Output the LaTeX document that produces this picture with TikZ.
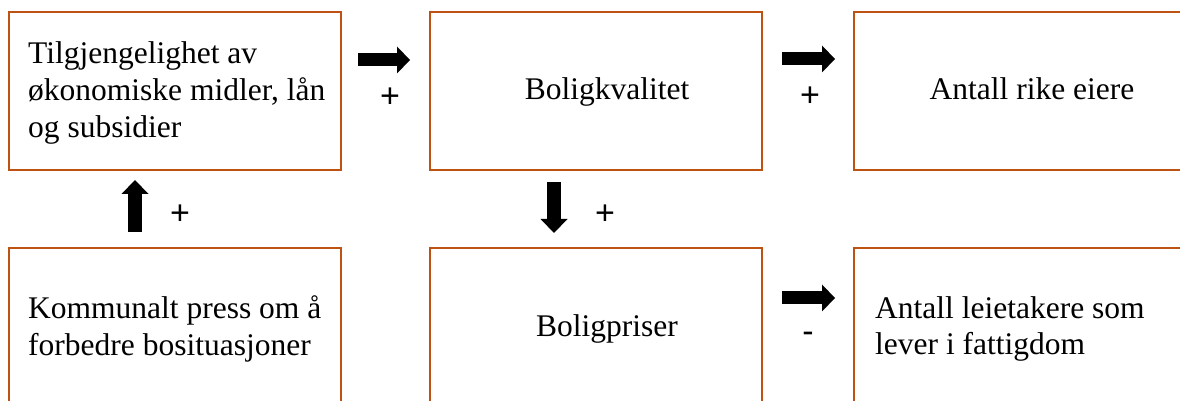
\documentclass[tikz,border=0pt]{standalone}
\usepackage{fontspec}
\setmainfont{Liberation Serif}
\newfontfamily\signfont{Liberation Sans}
\usetikzlibrary{arrows.meta}
\definecolor{BoxOrange}{RGB}{190,82,18}
\tikzset{
  box/.style={draw=BoxOrange, line width=2.6pt, minimum width=332pt, minimum height=158pt, inner sep=0pt, outer sep=0pt},
  boxtext/.style={font=\fontsize{31.5}{36.7}\selectfont, inner sep=0pt, align=left},
  sign/.style={font=\signfont\fontsize{34}{40}\selectfont, inner sep=0pt, anchor=base},
  blk/.style={line width=13pt, -{Triangle[width=27pt,length=13pt,line width=0pt]}},
  vblk/.style={line width=14.5pt, -{Triangle[width=27pt,length=14pt,line width=0pt]}}
}
\begin{document}
\begin{tikzpicture}[x=1pt,y=1pt]
\useasboundingbox (0,0) rectangle (1180,401);
\clip (0,0) rectangle (1180,401);
% boxes
\node[box] (b1) at (175,310) {};
\node[box] (b2) at (596,310) {};
\node[box] (b3) at (1020,310) {};
\node[box] (b4) at (175,74) {};
\node[box] (b5) at (596,74) {};
\node[box] (b6) at (1020,74) {};
% texts
\node[boxtext, anchor=west] (t1) at (28,308) {Tilgjengelighet av\\økonomiske midler, lån\\og subsidier};
\node[boxtext, anchor=base] (t2) at (607,301) {Boligkvalitet};
\node[boxtext, anchor=base] (t3) at (1032,301) {Antall rike eiere};
\node[boxtext, anchor=west] (t4) at (28,72) {Kommunalt press om å\\forbedre bosituasjoner};
\node[boxtext, anchor=base] (t5) at (607,64) {Boligpriser};
\node[boxtext, anchor=west] (t6) at (875,72) {Antall leietakere som\\lever i fattigdom};
% arrows
\draw[blk] ([xshift=17pt,yshift=31pt]b1.east) -- ([xshift=-20pt,yshift=31pt]b2.west);
\draw[blk] ([xshift=20pt,yshift=32pt]b2.east) -- ([xshift=-19pt,yshift=32pt]b3.west);
\draw[blk] ([xshift=20pt,yshift=29pt]b5.east) -- ([xshift=-19pt,yshift=29pt]b6.west);
\draw[vblk] ([xshift=-40pt,yshift=16pt]b4.north) -- ([xshift=-40pt,yshift=-10pt]b1.south);
\draw[vblk] ([xshift=-42pt,yshift=-12pt]b2.south) -- ([xshift=-42pt,yshift=15pt]b5.north);
% signs
\node[sign] (s1) at (390,293) {+};
\node[sign] (s2) at (810,294) {+};
\node[sign] (s3) at (180,176) {+};
\node[sign] (s4) at (605,176) {+};
\node[sign] (s5) at (808,58) {-};
\end{tikzpicture}
\end{document}
